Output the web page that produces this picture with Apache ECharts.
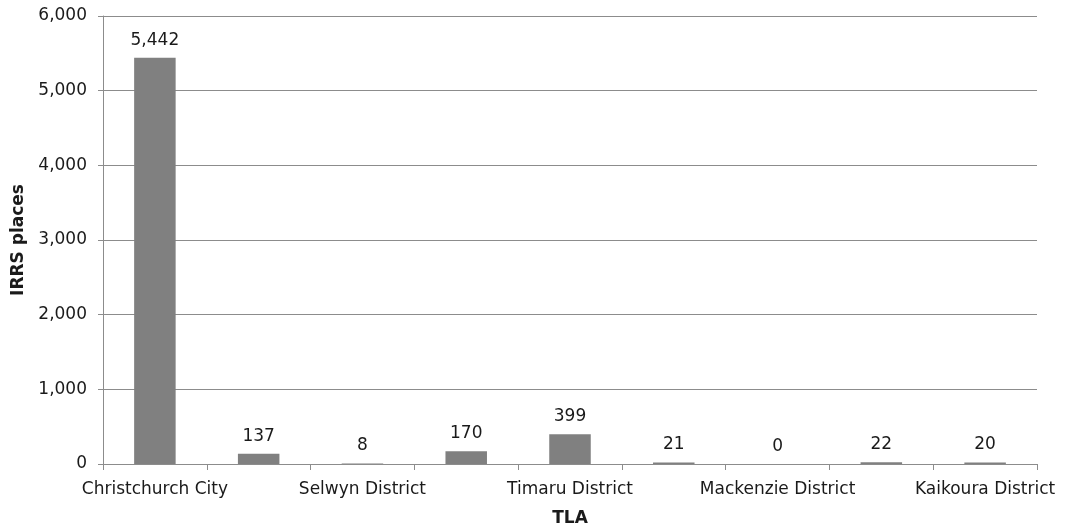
<!DOCTYPE html>
<html>
<head>
<meta charset="utf-8">
<script src="https://cdn.jsdelivr.net/npm/echarts@6/dist/echarts.min.js"></script>
<style>
  html, body { margin: 0; padding: 0; background: #ffffff; }
  #chart { width: 1073px; height: 526px; }
</style>
</head>
<body>
<div id="chart"></div>
<script>
// Territorial local authorities (every other name is shown on the axis)
const categories = [
  'Christchurch City',
  'Waimakariri District',
  'Selwyn District',
  'Ashburton District',
  'Timaru District',
  'Waimate District',
  'Mackenzie District',
  'Hurunui District',
  'Kaikoura District'
];
// IRRS places per TLA
const places = [5442, 137, 8, 170, 399, 21, 0, 22, 20];

const yTicks = { min: 0, max: 6000, interval: 1000 };

const fontFamily = '"DejaVu Sans", Verdana, sans-serif';
const textColor = '#1a1a1a';
const lineColor = '#8c8c8c';

const fmt = v => v.toLocaleString('en-US');

const chart = echarts.init(document.getElementById('chart'));
chart.setOption({
  animation: false,
  grid: {
    left: 103, right: 36, top: 16, bottom: 62,
    containLabel: false,
    outerBoundsMode: 'none'
  },
  xAxis: {
    type: 'category',
    data: categories,
    name: 'TLA',
    nameLocation: 'middle',
    nameGap: 46,
    nameTextStyle: { fontFamily, fontSize: 17, fontWeight: 'bold', color: textColor },
    axisLine: { show: true, lineStyle: { color: lineColor, width: 1 } },
    axisTick: { show: true, interval: 0, length: 6, lineStyle: { color: lineColor } },
    axisLabel: { interval: 1, fontFamily, fontSize: 17, color: textColor, margin: 17 },
    splitLine: { show: false }
  },
  yAxis: {
    type: 'value',
    min: yTicks.min,
    max: yTicks.max,
    interval: yTicks.interval,
    name: 'IRRS places',
    nameLocation: 'middle',
    nameGap: 55,
    nameRotate: 90,
    nameTextStyle: { fontFamily, fontSize: 17, fontWeight: 'bold', color: textColor },
    axisLine: { show: true, lineStyle: { color: lineColor, width: 1 } },
    axisTick: { show: true, length: 5, lineStyle: { color: lineColor } },
    axisLabel: { fontFamily, fontSize: 17, color: textColor, margin: 16, formatter: fmt },
    splitLine: { show: true, lineStyle: { color: lineColor, width: 1 } }
  },
  series: [{
    type: 'bar',
    data: places,
    barWidth: '40%',
    itemStyle: { color: '#808080' },
    label: {
      show: true,
      position: 'top',
      distance: 9,
      fontFamily,
      fontSize: 17,
      color: textColor,
      formatter: p => fmt(p.value)
    }
  }]
});
</script>
</body>
</html>
